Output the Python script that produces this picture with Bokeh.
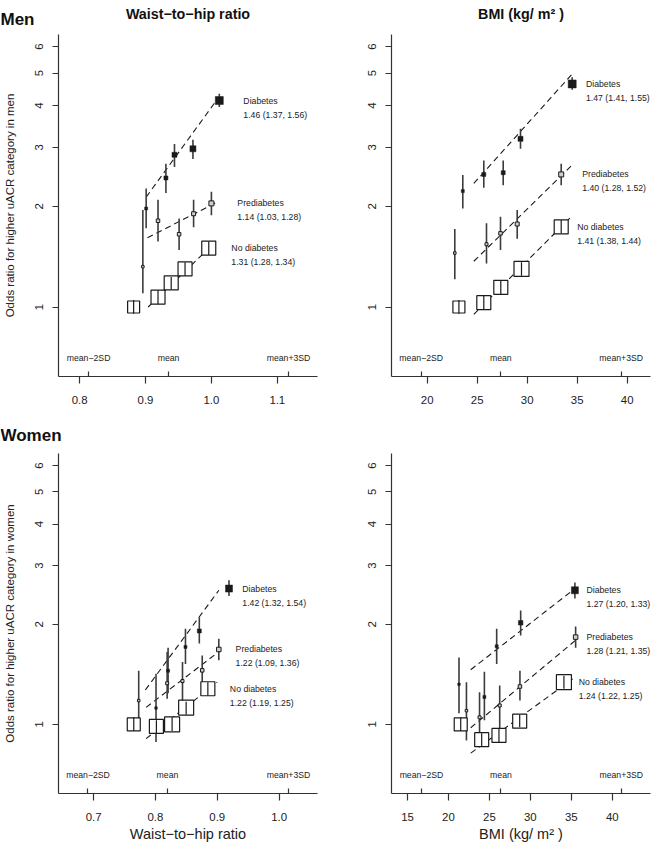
from bokeh.plotting import figure
from bokeh.layouts import column, row
from bokeh.models import Range1d, FixedTicker, PrintfTickFormatter, Label
from bokeh.core.properties import value
from bokeh.embed import file_html
from bokeh.resources import INLINE

# ------------------------------------------------------------------ data
y_ticks = [1, 2, 3, 4, 5, 6]
y_lim = [0.62, 6.52]
group_names = ["Diabetes", "Prediabetes", "No diabetes"]
mean_labels = ["mean\u22122SD", "mean", "mean+3SD"]
row_titles = ["Men", "Women"]
col_titles = ["Waist\u2212to\u2212hip ratio", "BMI (kg/ m\u00b2 )"]

# Men - waist-to-hip ratio
mw_xlim = [0.768, 1.161]
mw_x_ticks = [0.8, 0.9, 1.0, 1.1]
mw_means = [0.8136, 0.935, 1.117]
mw_d_x = [0.901, 0.931, 0.944, 0.972, 1.012]
mw_d_y = [1.97, 2.43, 2.85, 2.97, 4.14]
mw_d_lo = [1.72, 2.19, 2.62, 2.77, 3.96]
mw_d_hi = [2.26, 2.68, 3.07, 3.16, 4.34]
mw_p_x = [0.896, 0.919, 0.951, 0.973, 1.000]
mw_p_y = [1.32, 1.81, 1.65, 1.90, 2.04]
mw_p_lo = [1.10, 1.57, 1.48, 1.73, 1.88]
mw_p_hi = [1.95, 2.09, 1.84, 2.09, 2.21]
mw_n_x = [0.882, 0.919, 0.939, 0.960, 0.996]
mw_n_y = [1.00, 1.07, 1.18, 1.30, 1.50]
mw_n_lo = [0.955, 1.02, 1.13, 1.24, 1.43]
mw_n_hi = [1.05, 1.12, 1.23, 1.36, 1.57]
mw_fit_x0 = [0.901, 0.903, 0.904]
mw_fit_x1 = [1.011, 1.009, 1.006]
mw_fit_y0 = [2.13, 1.61, 1.00]
mw_fit_y1 = [4.23, 2.06, 1.565]
mw_or = ["1.46 (1.37, 1.56)", "1.14 (1.03, 1.28)", "1.31 (1.28, 1.34)"]

# Men - BMI
mb_xlim = [16.43, 42.33]
mb_x_ticks = [20, 25, 30, 35, 40]
mb_means = [19.4, 27.36, 39.4]
mb_d_x = [23.56, 25.66, 27.6, 29.33, 34.5]
mb_d_y = [2.22, 2.49, 2.52, 3.18, 4.64]
mb_d_lo = [1.97, 2.27, 2.31, 2.97, 4.46]
mb_d_hi = [2.48, 2.74, 2.74, 3.41, 4.86]
mb_p_x = [22.76, 25.93, 27.33, 29.0, 33.4]
mb_p_y = [1.45, 1.54, 1.66, 1.77, 2.49]
mb_p_lo = [1.21, 1.35, 1.48, 1.60, 2.31]
mb_p_hi = [1.71, 1.78, 1.86, 1.95, 2.68]
mb_n_x = [23.17, 25.66, 27.36, 29.43, 33.40]
mb_n_y = [1.00, 1.03, 1.145, 1.30, 1.735]
mb_n_lo = [0.955, 0.98, 1.09, 1.24, 1.66]
mb_n_hi = [1.05, 1.08, 1.20, 1.36, 1.82]
mb_fit_x0 = [24.66, 24.66, 24.66]
mb_fit_x1 = [34.5, 34.4, 34.4]
mb_fit_y0 = [2.34, 1.37, 0.951]
mb_fit_y1 = [4.97, 2.64, 1.86]
mb_or = ["1.47 (1.41, 1.55)", "1.40 (1.28, 1.52)", "1.41 (1.38, 1.44)"]

# Women - waist-to-hip ratio
ww_xlim = [0.6433, 1.0621]
ww_x_ticks = [0.7, 0.8, 0.9, 1.0]
ww_means = [0.691, 0.8195, 1.0152]
ww_d_x = [0.801, 0.8205, 0.8486, 0.871, 0.919]
ww_d_y = [1.12, 1.45, 1.71, 1.91, 2.56]
ww_d_lo = [0.885, 1.24, 1.52, 1.75, 2.43]
ww_d_hi = [1.42, 1.70, 1.94, 2.10, 2.71]
ww_p_x = [0.773, 0.819, 0.8438, 0.8757, 0.9025]
ww_p_y = [1.18, 1.33, 1.35, 1.454, 1.68]
ww_p_lo = [0.96, 1.195, 1.10, 1.34, 1.56]
ww_p_hi = [1.45, 1.65, 1.54, 1.61, 1.81]
ww_n_x = [0.765, 0.8016, 0.827, 0.8497, 0.8848]
ww_n_y = [1.00, 0.986, 1.00, 1.123, 1.28]
ww_n_lo = [0.955, 0.94, 0.955, 1.07, 1.22]
ww_n_hi = [1.05, 1.03, 1.05, 1.17, 1.34]
ww_fit_x0 = [0.7838, 0.7849, 0.7849]
ww_fit_x1 = [0.9026, 0.9000, 0.9000]
ww_fit_y0 = [1.27, 1.125, 0.906]
ww_fit_y1 = [2.53, 1.64, 1.34]
ww_or = ["1.42 (1.32, 1.54)", "1.22 (1.09, 1.36)", "1.22 (1.19, 1.25)"]

# Women - BMI
wb_xlim = [13.05, 44.67]
wb_x_ticks = [15, 20, 25, 30, 35, 40]
wb_means = [16.71, 26.41, 41.1]
wb_d_x = [21.29, 24.39, 25.89, 28.82, 35.44]
wb_d_y = [1.32, 1.21, 1.717, 2.02, 2.53]
wb_d_lo = [1.08, 1.03, 1.52, 1.85, 2.39]
wb_d_hi = [1.59, 1.44, 1.94, 2.20, 2.67]
wb_p_x = [22.2, 23.8, 26.26, 28.73, 35.53]
wb_p_y = [1.10, 1.05, 1.14, 1.30, 1.83]
wb_p_lo = [0.895, 0.885, 0.94, 1.18, 1.70]
wb_p_hi = [1.34, 1.25, 1.31, 1.45, 1.97]
wb_n_x = [21.5, 24.06, 26.17, 28.7, 34.1]
wb_n_y = [1.00, 0.90, 0.927, 1.023, 1.34]
wb_n_lo = [0.955, 0.86, 0.885, 0.98, 1.28]
wb_n_hi = [1.05, 0.94, 0.97, 1.07, 1.40]
wb_fit_x0 = [22.72, 22.72, 22.72]
wb_fit_x1 = [35.44, 35.52, 35.52]
wb_fit_y0 = [1.46, 0.977, 0.82]
wb_fit_y1 = [2.56, 1.79, 1.39]
wb_or = ["1.27 (1.20, 1.33)", "1.28 (1.21, 1.35)", "1.24 (1.22, 1.25)"]

# ------------------------------------------------------------------ styles
FONT = "Liberation Sans"
INK = "#1a1a1a"
AX = "#333333"
TXT = "#222222"
CI_COL = "#3c3c3c"
PRE_FILL = "#cfcfcf"
# marker sizes (px) for diabetes / prediabetes / no-diabetes points
mw_size = ([3, 4, 5, 6, 8], [2.5, 3.5, 3.5, 4, 5], [12, 14, 14, 14, 14])
mb_size = ([3, 4, 4, 5, 8], [2.5, 3, 3.5, 4, 5], [12, 14, 14, 15, 14])
ww_size = ([2.5, 3, 3, 4, 7], [2.5, 3, 3, 3.5, 4.5], [13, 14, 15, 15, 14])
wb_size = ([2.5, 3, 3, 4.5, 7], [2.5, 3, 3, 3.5, 4.5], [13, 14, 14, 14, 15])
# anchor (x, data units) of the group annotations
mw_lab_x = [1.0485, 1.0394, 1.0303]
mb_lab_x = [35.88, 35.5, 35.0]
ww_lab_x = [0.9405, 0.9297, 0.9204]
wb_lab_x = [36.85, 36.85, 35.9]

# layout (px)
COL_W = 330
FRAME_W = 259
FRAME_H = 342
LEFT_B = [58, 61]
TOP_HEAD_H, TOP_ROW_H, BOT_HEAD_H, BOT_ROW_H = 30, 392, 26, 396


def make_panel(xlim, xticks, means, d, pr, nd, fit, ors, sizes, lab_x, xfmt,
               col, bottom_row, ylab=None, xlab=None):
    bl = LEFT_B[col]
    height = BOT_ROW_H if bottom_row else TOP_ROW_H
    bt = 5 if bottom_row else 4
    bb = height - bt - FRAME_H
    p = figure(width=COL_W, height=height, x_range=Range1d(*xlim), y_range=Range1d(*y_lim),
               y_axis_type="log", output_backend="svg", toolbar_location=None,
               min_border_left=bl, min_border_right=COL_W - bl - FRAME_W,
               min_border_top=bt, min_border_bottom=bb)
    p.grid.visible = False
    p.outline_line_color = None
    p.background_fill_color = "white"
    p.border_fill_color = "white"

    xa = p.xaxis[0]
    ya = p.yaxis[0]
    xa.ticker = FixedTicker(ticks=xticks, minor_ticks=means)
    xa.formatter = PrintfTickFormatter(format=xfmt)
    xa.major_tick_in = 0
    xa.major_tick_out = 7
    xa.minor_tick_in = 5
    xa.minor_tick_out = 0
    for a in (xa, ya):
        a.axis_line_color = AX
        a.axis_line_width = 1.2
        a.major_tick_line_color = AX
        a.major_tick_line_width = 1.2
        a.minor_tick_line_color = AX
        a.minor_tick_line_width = 1.2
        a.major_label_text_font = FONT
        a.major_label_text_font_size = "11.4px"
        a.major_label_text_color = TXT
    xa.major_label_standoff = 12
    ya.ticker = FixedTicker(ticks=y_ticks)
    ya.formatter = PrintfTickFormatter(format="%d")
    ya.major_label_orientation = "vertical"
    ya.major_tick_in = 0
    ya.major_tick_out = 6
    ya.minor_tick_in = 0
    ya.minor_tick_out = 0
    ya.major_label_standoff = 9
    if ylab:
        ya.axis_label = ylab
        ya.axis_label_text_font = FONT
        ya.axis_label_text_font_style = "normal"
        ya.axis_label_text_font_size = "11.5px"
        ya.axis_label_text_color = TXT
        ya.axis_label_standoff = 17
    if xlab:
        xa.axis_label = xlab
        xa.axis_label_text_font = FONT
        xa.axis_label_text_font_style = "normal"
        xa.axis_label_text_font_size = "14.5px"
        xa.axis_label_text_color = TXT
        xa.axis_label_standoff = 2

    # fitted dashed lines
    p.segment(x0=fit[0], y0=fit[2], x1=fit[1], y1=fit[3],
              line_color=INK, line_width=1.1, line_dash="6 4")
    # confidence intervals for diabetes / prediabetes
    for g in (d, pr):
        p.segment(x0=g[0], y0=g[2], x1=g[0], y1=g[3], line_color=CI_COL, line_width=1.6)
    # no-diabetes boxes with CI through the middle
    p.scatter(x=nd[0], y=nd[1], marker="square", size=sizes[2],
              fill_color="white", line_color=INK, line_width=1.2)
    p.segment(x0=nd[0], y0=nd[2], x1=nd[0], y1=nd[3], line_color=INK, line_width=1.2)
    # prediabetes (open) and diabetes (filled)
    p.scatter(x=pr[0], y=pr[1], marker="square", size=sizes[1],
              fill_color=PRE_FILL, line_color=INK, line_width=1)
    p.scatter(x=d[0], y=d[1], marker="square", size=sizes[0],
              fill_color=INK, line_color=INK, line_width=0.5)

    # group annotations
    last_y = [d[1][-1], pr[1][-1], nd[1][-1]]
    for i in range(3):
        for txt, off in ((group_names[i], 0), (ors[i], -14)):
            p.add_layout(Label(x=lab_x[i], y=last_y[i], y_offset=off, text=txt,
                               text_font=FONT, text_font_size="8.7px", text_color=TXT,
                               text_align="left", text_baseline="middle"))
    # mean / SD markers
    for m, t in zip(means, mean_labels):
        p.add_layout(Label(x=m, y=y_lim[0], y_offset=19, text=t, text_font=FONT,
                           text_font_size="8.7px", text_color=TXT,
                           text_align="center", text_baseline="middle"))
    return p


def make_header(height, texts):
    h = figure(width=2 * COL_W, height=height, x_range=Range1d(0, 2 * COL_W),
               y_range=Range1d(height, 0), output_backend="svg", toolbar_location=None,
               x_axis_location=None, y_axis_location=None,
               min_border_left=0, min_border_right=0, min_border_top=0, min_border_bottom=0)
    h.grid.visible = False
    h.outline_line_color = None
    h.border_fill_color = "white"
    for (x, y, t, size, align) in texts:
        h.text(x=[x], y=[y], text=[t], text_font=value(FONT), text_font_size=size,
               text_font_style="bold", text_color="#111111", text_align=align,
               text_baseline="middle")
    return h


col_center = [LEFT_B[0] + FRAME_W / 2, COL_W + LEFT_B[1] + FRAME_W / 2]
head_men = make_header(TOP_HEAD_H, [
    (0, 18.5, row_titles[0], "17px", "left"),
    (col_center[0], 13.5, col_titles[0], "14.3px", "center"),
    (col_center[1], 13.5, col_titles[1], "14.3px", "center"),
])
head_women = make_header(BOT_HEAD_H, [
    (0, 12.5, row_titles[1], "17px", "left"),
])

p1 = make_panel(mw_xlim, mw_x_ticks, mw_means,
                (mw_d_x, mw_d_y, mw_d_lo, mw_d_hi), (mw_p_x, mw_p_y, mw_p_lo, mw_p_hi),
                (mw_n_x, mw_n_y, mw_n_lo, mw_n_hi), (mw_fit_x0, mw_fit_x1, mw_fit_y0, mw_fit_y1),
                mw_or, mw_size, mw_lab_x, "%.1f", 0, False,
                ylab="Odds ratio for higher uACR category in men")
p2 = make_panel(mb_xlim, mb_x_ticks, mb_means,
                (mb_d_x, mb_d_y, mb_d_lo, mb_d_hi), (mb_p_x, mb_p_y, mb_p_lo, mb_p_hi),
                (mb_n_x, mb_n_y, mb_n_lo, mb_n_hi), (mb_fit_x0, mb_fit_x1, mb_fit_y0, mb_fit_y1),
                mb_or, mb_size, mb_lab_x, "%d", 1, False)
p3 = make_panel(ww_xlim, ww_x_ticks, ww_means,
                (ww_d_x, ww_d_y, ww_d_lo, ww_d_hi), (ww_p_x, ww_p_y, ww_p_lo, ww_p_hi),
                (ww_n_x, ww_n_y, ww_n_lo, ww_n_hi), (ww_fit_x0, ww_fit_x1, ww_fit_y0, ww_fit_y1),
                ww_or, ww_size, ww_lab_x, "%.1f", 0, True,
                ylab="Odds ratio for higher uACR category in women",
                xlab=col_titles[0])
p4 = make_panel(wb_xlim, wb_x_ticks, wb_means,
                (wb_d_x, wb_d_y, wb_d_lo, wb_d_hi), (wb_p_x, wb_p_y, wb_p_lo, wb_p_hi),
                (wb_n_x, wb_n_y, wb_n_lo, wb_n_hi), (wb_fit_x0, wb_fit_x1, wb_fit_y0, wb_fit_y1),
                wb_or, wb_size, wb_lab_x, "%d", 1, True,
                xlab=col_titles[1])

page = column(head_men, row(p1, p2), head_women, row(p3, p4))
open("out.html", "w").write(file_html(page, INLINE))
